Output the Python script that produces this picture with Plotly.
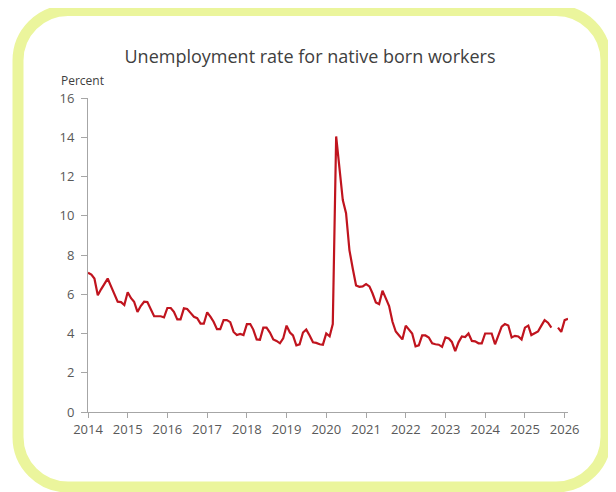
import pandas as pd
import plotly.graph_objects as go

# ---- data (monthly, not seasonally adjusted, percent) ----
start_month = "2014-01-01"
end_month = "2026-02-01"
rate_2014 = [7.1, 7.0, 6.8, 5.95, 6.25, 6.5, 6.8, 6.4, 6.0, 5.62, 5.6, 5.45]
rate_2015 = [6.1, 5.8, 5.62, 5.1, 5.4, 5.62, 5.6, 5.25, 4.88, 4.88, 4.88, 4.82]
rate_2016 = [5.3, 5.3, 5.1, 4.72, 4.72, 5.28, 5.25, 5.05, 4.85, 4.78, 4.5, 4.5]
rate_2017 = [5.08, 4.85, 4.6, 4.22, 4.22, 4.68, 4.68, 4.58, 4.08, 3.92, 3.98, 3.92]
rate_2018 = [4.48, 4.48, 4.2, 3.7, 3.68, 4.3, 4.3, 4.05, 3.7, 3.62, 3.5, 3.75]
rate_2019 = [4.4, 4.05, 3.9, 3.4, 3.45, 4.05, 4.2, 3.9, 3.55, 3.52, 3.45, 3.43]
rate_2020 = [4.0, 3.86, 4.48, 14.04, 12.5, 10.8, 10.13, 8.25, 7.3, 6.45, 6.38, 6.4]
rate_2021 = [6.52, 6.4, 6.05, 5.58, 5.5, 6.18, 5.8, 5.4, 4.6, 4.1, 3.9, 3.7]
rate_2022 = [4.4, 4.2, 4.0, 3.35, 3.4, 3.9, 3.9, 3.8, 3.5, 3.45, 3.43, 3.32]
rate_2023 = [3.8, 3.75, 3.57, 3.1, 3.55, 3.85, 3.82, 4.0, 3.62, 3.6, 3.5, 3.5]
rate_2024 = [4.0, 4.0, 4.0, 3.45, 3.9, 4.35, 4.48, 4.41, 3.8, 3.88, 3.85, 3.7]
rate_2025 = [4.3, 4.4, 3.92, 4.0, 4.1, 4.4, 4.68, 4.55, 4.3, None, 4.3, 4.08]
rate_2026 = [4.68, 4.75]
year_labels = ["2014", "2015", "2016", "2017", "2018", "2019", "2020",
               "2021", "2022", "2023", "2024", "2025", "2026"]

rates = (rate_2014 + rate_2015 + rate_2016 + rate_2017 + rate_2018 + rate_2019 +
         rate_2020 + rate_2021 + rate_2022 + rate_2023 + rate_2024 + rate_2025 + rate_2026)
months = pd.date_range(start_month, end_month, freq="MS")
year_ticks = [f"{y}-01-01" for y in year_labels]

# the page body adds an 8px margin; work in screen pixels and shift
OFF = 8
W, H = 616 - OFF, 492 - OFF
PLOT_L, PLOT_R, PLOT_T, PLOT_B = 88, 568, 98, 412   # screen pixels
ML, MT = PLOT_L - OFF, PLOT_T - OFF
PW, PH = PLOT_R - PLOT_L, PLOT_B - PLOT_T
MR, MB = W - ML - PW, H - MT - PH

fig = go.Figure()
fig.add_trace(go.Scatter(
    x=months, y=rates, mode="lines", connectgaps=False,
    line=dict(color="#C0141E", width=2.2), hoverinfo="x+y", showlegend=False,
))

axis_col = "#A6A6A6"
tick_font = dict(family="Open Sans, sans-serif", size=13, color="#595959")

fig.update_xaxes(
    range=[start_month, end_month], tickvals=year_ticks, ticktext=year_labels,
    showgrid=False, zeroline=False, showline=True, linecolor=axis_col, linewidth=1,
    ticks="outside", ticklen=5, tickcolor=axis_col, tickfont=tick_font,
)
fig.update_yaxes(
    range=[0, 16], dtick=2, showgrid=False, zeroline=False, showline=True,
    linecolor=axis_col, linewidth=1, ticks="outside", ticklen=6,
    tickcolor=axis_col, tickfont=tick_font, ticklabelstandoff=4,
)

# screen pixel -> paper helpers
def px(x):
    return (x - PLOT_L) / PW

def py(y):
    return (PLOT_B - y) / PH

# rounded decorative frame
L, R, T, B, r = 18, 606, 10.5, 487, 50
k = 0.5523 * r
pts = [
    ("M", [(L + r, T)]),
    ("L", [(R - r, T)]),
    ("C", [(R - r + k, T), (R, T + r - k), (R, T + r)]),
    ("L", [(R, B - r)]),
    ("C", [(R, B - r + k), (R - r + k, B), (R - r, B)]),
    ("L", [(L + r, B)]),
    ("C", [(L + r - k, B), (L, B - r + k), (L, B - r)]),
    ("L", [(L, T + r)]),
    ("C", [(L, T + r - k), (L + r - k, T), (L + r, T)]),
]
path = ""
for cmd, ps in pts:
    path += cmd + " " + " ".join(f"{px(a):.5f},{py(b):.5f}" for a, b in ps) + " "
path += "Z"
fig.add_shape(type="path", path=path, xref="paper", yref="paper",
              line=dict(color="#EBF59C", width=11), fillcolor="rgba(0,0,0,0)",
              layer="below")

fig.add_annotation(text="Percent", xref="paper", yref="paper",
                   x=px(59), y=py(80), xanchor="left", yanchor="middle",
                   showarrow=False,
                   font=dict(family="Open Sans, sans-serif", size=12, color="#404040"))

fig.update_layout(
    width=W, height=H,
    margin=dict(l=ML, r=MR, t=MT, b=MB),
    paper_bgcolor="white", plot_bgcolor="white",
    title=dict(text="Unemployment rate for native born workers",
               x=(310 - OFF) / W, xanchor="center", xref="container",
               y=1 - (57 - OFF) / H, yanchor="middle", yref="container",
               font=dict(family="Open Sans, sans-serif", size=18, color="#404040")),
)

fig.write_html("out.html")
